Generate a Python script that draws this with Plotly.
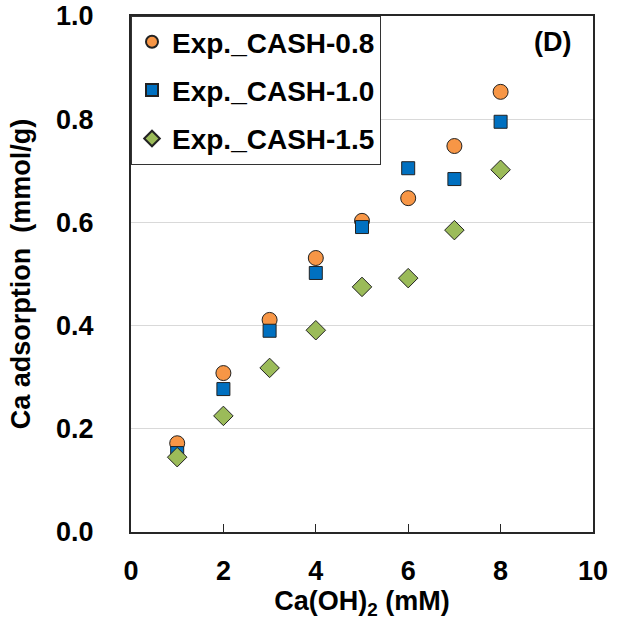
import plotly.graph_objects as go

ca_oh2 = [1, 2, 3, 4, 5, 6, 7, 8]
cash_08 = [0.172, 0.308, 0.411, 0.531, 0.603, 0.647, 0.748, 0.853]
cash_10 = [0.153, 0.277, 0.390, 0.502, 0.591, 0.705, 0.684, 0.795]
cash_15 = [0.145, 0.225, 0.318, 0.391, 0.475, 0.492, 0.585, 0.702]

y_ticks = [0.0, 0.2, 0.4, 0.6, 0.8, 1.0]
x_ticks = [0, 2, 4, 6, 8, 10]

series = [
    ('Exp._CASH-0.8', cash_08, 'circle', '#F79646', 15),
    ('Exp._CASH-1.0', cash_10, 'square', '#0070C0', 13),
    ('Exp._CASH-1.5', cash_15, 'diamond', '#9BBB59', 15),
]

font_bold = 'Liberation Sans, Arial, sans-serif'

fig = go.Figure()
for i, (name, vals, sym, col, sz) in enumerate(series):
    fig.add_trace(go.Scatter(
        x=ca_oh2, y=vals, mode='markers', name=name,
        legendgroup=str(i),
        marker=dict(symbol=sym, color=col, size=sz,
                    line=dict(color='#222222', width=1)),
    ))

fig.update_layout(
    width=622, height=622,
    margin=dict(l=131, r=29, t=16, b=90),
    paper_bgcolor='white', plot_bgcolor='white',
    font=dict(family=font_bold, size=27, color='black'),
    showlegend=True,
    legend=dict(
        x=0, y=1, xanchor='left', yanchor='top',
        bgcolor='white', bordercolor='#333333', borderwidth=1,
        font=dict(size=28, family=font_bold, weight='bold'),
        traceorder='grouped', tracegroupgap=9,
        itemsizing='constant',
    ),
    xaxis=dict(
        range=[0, 10], tickvals=x_ticks,
        showgrid=False, zeroline=False, automargin=False,
        showline=True, linecolor='#262626', linewidth=2, mirror=True,
        ticks='inside', ticklen=8, tickcolor='#262626', tickwidth=1,
        ticklabelstandoff=14,
        tickfont=dict(size=27, weight='bold'),
        title=dict(text='Ca(OH)<sub>2</sub> (mM)', standoff=2,
                   font=dict(size=27, weight='bold')),
    ),
    yaxis=dict(
        range=[0, 1.0], tickvals=y_ticks, tickformat='.1f',
        ticklabeloverflow='allow',
        showgrid=True, gridcolor='#D9D9D9', gridwidth=1,
        zeroline=False, automargin=False,
        showline=True, linecolor='#262626', linewidth=2, mirror=True,
        ticks='outside', ticklen=30, tickcolor='rgba(0,0,0,0)',
        tickfont=dict(size=27, weight='bold'),
        title=dict(text='Ca adsorption  (mmol/g)', standoff=18,
                   font=dict(size=27, weight='bold')),
    ),
)

fig.add_annotation(
    x=0.912, y=0.95, xref='paper', yref='paper',
    xanchor='center', yanchor='middle', showarrow=False,
    text='(D)', font=dict(size=27, weight='bold'),
)

# drop the default 8px body margin so the figure sits at the page corner
fig.write_html('out.html', config={'displayModeBar': False},
               post_script="document.body.style.margin='0';")
